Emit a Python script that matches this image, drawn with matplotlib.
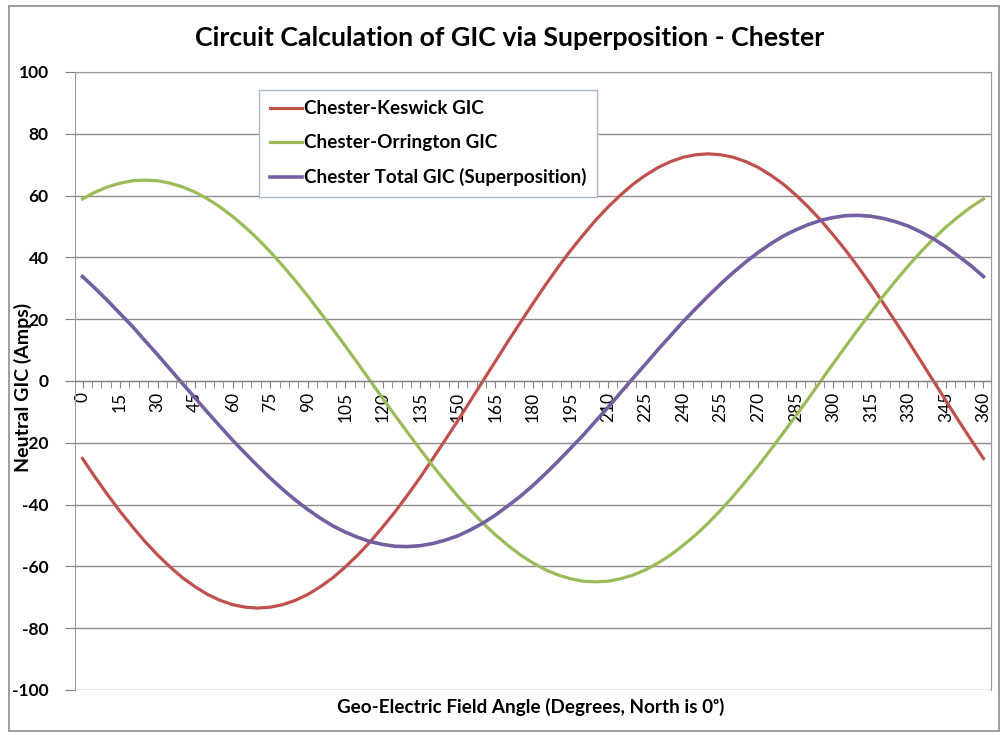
import matplotlib.pyplot as plt
from matplotlib.patches import Rectangle

plt.rcParams['font.family'] = ['Lato', 'DejaVu Sans']

# angle (degrees, every 5) and GIC values
angles = list(range(0, 361, 5))
keswick = [-25.1, -31.1, -36.8, -42.2, -47.2, -52.0, -56.3, -60.2, -63.7, -66.6, -69.1, -71.0, -72.4,
           -73.2, -73.5, -73.2, -72.4, -71.0, -69.1, -66.6, -63.7, -60.2, -56.3, -52.0, -47.2,
           -42.2, -36.8, -31.1, -25.1, -19.0, -12.8, -6.4, 0.0, 6.4, 12.8, 19.0, 25.1,
           31.1, 36.8, 42.2, 47.2, 52.0, 56.3, 60.2, 63.7, 66.6, 69.1, 71.0, 72.4,
           73.2, 73.5, 73.2, 72.4, 71.0, 69.1, 66.6, 63.7, 60.2, 56.3, 52.0, 47.2,
           42.2, 36.8, 31.1, 25.1, 19.0, 12.8, 6.4, 0.0, -6.4, -12.8, -19.0, -25.1]
orrington = [58.9, 61.1, 62.8, 64.0, 64.8, 65.0, 64.8, 64.0, 62.8, 61.1, 58.9, 56.3, 53.2,
             49.8, 46.0, 41.8, 37.3, 32.5, 27.5, 22.2, 16.8, 11.3, 5.7, 0.0, -5.7,
             -11.3, -16.8, -22.2, -27.5, -32.5, -37.3, -41.8, -46.0, -49.8, -53.2, -56.3, -58.9,
             -61.1, -62.8, -64.0, -64.8, -65.0, -64.8, -64.0, -62.8, -61.1, -58.9, -56.3, -53.2,
             -49.8, -46.0, -41.8, -37.3, -32.5, -27.5, -22.2, -16.8, -11.3, -5.7, 0.0, 5.7,
             11.3, 16.8, 22.2, 27.5, 32.5, 37.3, 41.8, 46.0, 49.8, 53.2, 56.3, 58.9]
total = [33.8, 30.0, 26.0, 21.8, 17.6, 13.0, 8.5, 3.8, -0.9, -5.5, -10.2, -14.7, -19.2,
         -23.4, -27.5, -31.4, -35.1, -38.5, -41.6, -44.4, -46.9, -48.9, -50.6, -52.0, -52.9,
         -53.5, -53.6, -53.3, -52.6, -51.5, -50.1, -48.2, -46.0, -43.4, -40.4, -37.3, -33.8,
         -30.0, -26.0, -21.8, -17.6, -13.0, -8.5, -3.8, 0.9, 5.5, 10.2, 14.7, 19.2,
         23.4, 27.5, 31.4, 35.1, 38.5, 41.6, 44.4, 46.9, 48.9, 50.6, 52.0, 52.9,
         53.5, 53.6, 53.3, 52.6, 51.5, 50.1, 48.2, 46.0, 43.4, 40.4, 37.3, 33.8]
yticks = list(range(-100, 101, 20))

fig = plt.figure(figsize=(10, 7.32), dpi=100)
# outer chart border
fig.patches.append(Rectangle((0.0085, 0.001), 0.99, 0.991, transform=fig.transFigure,
                             fill=False, edgecolor='#8c8c8c', linewidth=1.2))

ax = fig.add_axes([0.075, 0.0574, 0.916, 0.8443])

ax.plot(angles, keswick, color='#C0504D', lw=2.3, label='Chester-Keswick GIC')
ax.plot(angles, orrington, color='#9BBB59', lw=2.3, label='Chester-Orrington GIC')
ax.plot(angles, total, color='#7460A0', lw=2.6, label='Chester Total GIC (Superposition)')

ax.set_xlim(-3, 363)
ax.set_ylim(-100, 100)
ax.set_yticks(yticks)
ax.set_yticklabels([str(v) for v in yticks], fontsize=12.5, fontweight='bold')
ax.set_xticks(range(0, 361, 15))
ax.set_xticks([i * 3.75 for i in range(97)], minor=True)
ax.tick_params(axis='x', which='both', direction='out', length=5, color='#7f7f7f',
               labelsize=12.5, labelrotation=90, pad=3)
ax.tick_params(axis='y', direction='out', length=7, color='#7f7f7f', pad=12)

ax.grid(axis='y', color='#8c8c8c', lw=1)
ax.set_axisbelow(True)
ax.spines['bottom'].set_position(('data', 0))
ax.spines['bottom'].set_color('#7f7f7f')
for s in ['left', 'right', 'top']:
    ax.spines[s].set_color('#9a9a9a')

ax.set_ylabel('Neutral GIC (Amps)', fontsize=14, fontweight='bold')
ax.yaxis.set_label_coords(-0.047, 0.49)
ax.text(0.497, -0.028, 'Geo-Electric Field Angle (Degrees, North is 0ᵒ)',
        transform=ax.transAxes, ha='center', va='center', fontsize=13.6, fontweight='bold')

fig.text(0.51, 0.948, 'Circuit Calculation of GIC via Superposition - Chester',
         ha='center', va='center', fontsize=19.3, fontweight='bold')

leg = ax.legend(loc='upper left', bbox_to_anchor=(0.201, 0.971), borderaxespad=0,
                prop={'size': 13.6, 'weight': 'bold'}, handlelength=1.7, handletextpad=0.15,
                labelspacing=0.9, fancybox=False, framealpha=1, borderpad=0.55)
leg.get_frame().set_edgecolor('#a8bcd0')

fig.savefig('out.png', dpi=100)
